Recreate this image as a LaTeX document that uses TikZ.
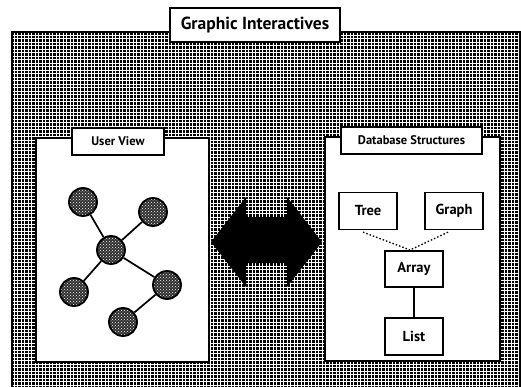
\documentclass[tikz,border=0pt]{standalone}
\usepackage{fontspec}
\setmainfont{PT Sans}
\usetikzlibrary{patterns}
\begin{document}
\begin{tikzpicture}[x=1pt,y=-1pt,
  panel/.style={draw=black,line width=1.6pt,fill=white},
  tag/.style={draw=black,line width=1.3pt,fill=white,font=\bfseries\fontsize{12.5}{14}\selectfont,inner sep=0pt,anchor=center},
  item/.style={draw=black,line width=1.3pt,fill=white,font=\bfseries\fontsize{14.5}{16}\selectfont,minimum width=58pt,minimum height=37pt,inner sep=0pt},
  ball/.style={circle,draw=black,line width=1.8pt,minimum size=28pt,inner sep=0pt,
    preaction={fill=black!82},pattern=crosshatch dots,pattern color=white},
  link/.style={line width=1.7pt}]
\useasboundingbox (0,0) rectangle (521,387);
\fill[white] (0,0) rectangle (521,387);
% hatched backdrop
\fill[black] (12,32) rectangle (520,387);
\begin{scope}
\clip (12,32) rectangle (520,387);
\draw[white,line width=0.6pt,step=3.5pt] (12,32) grid (520,387);
\end{scope}
\draw[black,line width=1.5pt] (12,387) -- (12,32) -- (520,32) -- (520,387);
% title
\node[tag,minimum width=170pt,minimum height=34pt,font=\bfseries\fontsize{17.5}{19}\selectfont] (title) at (255,25) {Graphic Interactives};
% panels
\node[panel,minimum width=173pt,minimum height=224pt,inner sep=0pt] (uv) at (122.5,250) {};
\node[panel,minimum width=175pt,minimum height=224pt,inner sep=0pt] (db) at (412.5,249) {};
\node[tag,minimum width=92pt,minimum height=27pt] (uvtag) at (118,141.5) {User View};
\node[tag,minimum width=141pt,minimum height=27pt] (dbtag) at (411.5,140.5) {Database Structures};
% double arrow
\fill[black] (211,242) -- (246,197) -- (246,217) -- (287,217) -- (287,197) -- (322,242)
  -- (287,287) -- (287,263) -- (246,263) -- (246,287) -- cycle;
% network of balls
\node[ball] (c0) at (111,250) {};
\node[ball] (c1) at (83,202) {};
\node[ball] (c2) at (153,212) {};
\node[ball] (c3) at (74,292) {};
\node[ball] (c4) at (167,285) {};
\node[ball] (c5) at (123,322) {};
\draw[link] (c0) -- (c1);
\draw[link] (c0) -- (c2);
\draw[link] (c0) -- (c3);
\draw[link] (c0) -- (c4);
\draw[link] (c4) -- (c5);
% data structures
\node[item] (tree) at (368,211) {Tree};
\node[item] (graph) at (454,211) {Graph};
\node[item,minimum height=36pt] (array) at (414,269) {Array};
\node[item] (list) at (414,336.5) {List};
\coordinate (join) at (410,250);
\draw[line width=1.3pt,dash pattern=on 1.5pt off 2pt] (tree.south) ++(-5,2) -- (join);
\draw[line width=1.3pt,dash pattern=on 1.5pt off 2pt] (graph.south) ++(-6,2) -- (join);
\draw[line width=1.3pt] (array) -- (list);
\end{tikzpicture}
\end{document}
